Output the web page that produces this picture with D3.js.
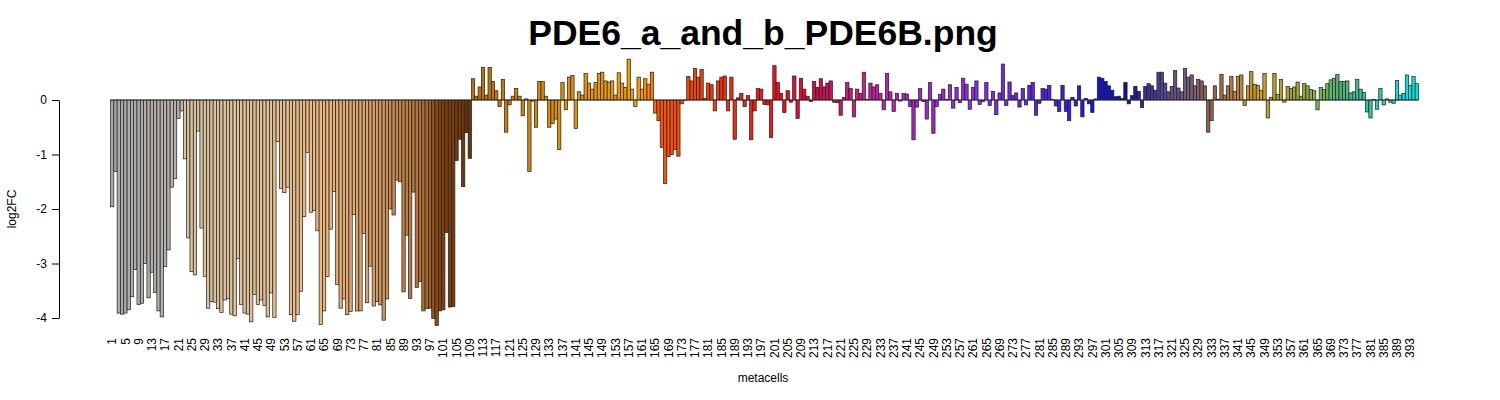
<!DOCTYPE html>
<html>
<head>
<meta charset="utf-8">
<script src="https://cdn.jsdelivr.net/npm/d3@7"></script>
<style>
  body { margin: 0; background: #fff; }
  svg { display: block; font-family: "Liberation Sans", Arial, sans-serif; }
</style>
</head>
<body>
<svg id="chart" width="1500" height="400"></svg>
<script>
const titleText = "PDE6_a_and_b_PDE6B.png";
const xLabel = "metacells";
const yLabel = "log2FC";
const yTicks = [0, -1, -2, -3, -4];

// log2FC per metacell
const log2fc_1_64 = [
  -1.96, -1.31, -3.91, -3.93, -3.91, -3.85, -3.61, -3.11, -3.75, -3.73, -3.00, -3.63, -3.16, -3.53, -3.87, -3.98,
  -3.06, -2.75, -1.60, -1.44, -0.34, -0.20, -1.08, -2.53, -3.15, -3.21, -0.57, -2.35, -3.24, -3.82, -3.70,
  -3.71, -3.83, -3.90, -3.67, -3.64, -3.93, -3.96, -2.91, -3.75, -3.91, -3.93, -4.07, -3.57, -3.75, -3.67, -3.77,
  -3.98, -3.54, -3.99, -0.76, -1.62, -1.70, -1.60, -3.94, -4.06, -3.94, -3.51, -2.14, -0.96, -2.06, -2.03, -2.40, -4.12
];
const log2fc_65_132 = [
  -3.87, -3.24, -2.37, -1.68, -3.39, -3.82, -3.65, -3.94, -3.88, -2.10, -3.87, -3.87, -2.45, -3.72, -3.05, -3.78,
  -3.70, -3.76, -4.04, -3.65, -2.00, -2.11, -1.47, -1.50, -3.52, -2.48, -3.64, -1.69, -3.44, -3.33, -3.87, -3.83,
  -3.82, -4.01,
  -4.14, -3.87, -3.85, -2.43, -3.80, -3.79, -1.11, -0.72, -1.59, -0.60, -1.07, 0.39, 0.07, 0.24, 0.60, 0.09,
  0.60, 0.34, 0.17, -0.12, 0.38, -0.59, -0.09, 0.07, 0.21, 0.07, -0.29, 0.02, -1.31, -0.02, -0.50, 0.34, 0.34, 0.07
];
const log2fc_133_198 = [
  -0.50, -0.43, -0.35, -0.91, 0.32, -0.18, 0.42, 0.45, -0.52, 0.15, 0.09, 0.49, 0.31, 0.20, 0.32, 0.49,
  0.51, 0.35, 0.33, 0.35, 0.09, 0.50, 0.31, 0.23, 0.75, 0.20, -0.12, 0.42, 0.20, 0.39, 0.29, 0.51, -0.24,
  -0.38, -0.87, -1.53, -1.04, -1.00, -0.91, -1.03, -0.07, -0.01, 0.43, 0.35, 0.58, 0.42, 0.56, 0.03, 0.31,
  0.28, -0.20, 0.35, 0.42, 0.44, -0.20, 0.42, -0.72, 0.04, 0.12, -0.12, 0.08, -0.73, -0.20, 0.21, 0.20, -0.08
];
const log2fc_199_264 = [
  -0.09, -0.69, 0.63, 0.32, 0.12, -0.23, 0.17, -0.04, 0.44, -0.34, 0.40, 0.20, 0.07, -0.03, 0.34, 0.23,
  0.39, 0.24, 0.31, 0.35, -0.04, -0.05, -0.28, 0.05, 0.32, 0.21, -0.31, 0.20, 0.12, 0.51, 0.01, 0.31, 0.24,
  0.28, 0.12, -0.18, 0.49, 0.15, -0.21, 0.12, -0.02, 0.12, 0.11, -0.12, -0.73, -0.13, 0.21, -0.03, -0.35,
  0.32, -0.61, -0.12, 0.10, 0.20, 0.01, 0.28, -0.15, 0.23, -0.05, 0.40, 0.29, -0.17, 0.23, 0.35, -0.08, -0.03
];
const log2fc_265_309 = [
  0.32, -0.10, 0.16, -0.27, 0.13, 0.66, -0.10, 0.33, 0.08, 0.13, -0.13, 0.21, -0.09, 0.27, 0.32, -0.28,
  -0.06, 0.21, 0.20, 0.27, 0.01, -0.11, -0.21, 0.27, -0.21, -0.38, 0.05, -0.11, 0.26, -0.31, 0.03, -0.07,
  -0.23, 0.02, 0.42, 0.40, 0.34, 0.26, 0.18, 0.06, 0.07, 0.03, 0.32, -0.07, 0.08
];
const log2fc_310_353 = [
  0.25, 0.16, -0.14, 0.25, 0.30, 0.26, 0.18, 0.51, 0.51, 0.31, 0.15, 0.25, 0.54, 0.22, 0.15, 0.58,
  0.42, 0.46, 0.26, 0.38, 0.35, 0.26, -0.59, -0.38, 0.26, 0.01, 0.47, 0.09, 0.26, 0.43, 0.16, 0.43,
  0.46, -0.10, 0.26, 0.52, 0.29, 0.27, 0.18, 0.49, -0.33, 0.05, 0.49, 0.10
];
const log2fc_354_395 = [
  0.38, -0.04, 0.25, 0.21, 0.24, 0.33, 0.07, 0.30, 0.26, 0.19, 0.17, -0.18, 0.23, 0.19, 0.30, 0.37,
  0.40, 0.47, 0.34, 0.34, 0.35, 0.13, 0.15, 0.38, 0.20, 0.14, -0.22, -0.33, 0.01, -0.17, 0.21, -0.09,
  0.02, -0.04, -0.06, 0.36, 0.09, 0.12, 0.46, 0.27, 0.43, 0.30
];

const log2fc = [].concat(log2fc_1_64, log2fc_65_132, log2fc_133_198, log2fc_199_264,
  log2fc_265_309, log2fc_310_353, log2fc_354_395);
const metacells = d3.range(1, log2fc.length + 1);
const tickLabels = metacells.filter((d) => (d - 1) % 4 === 0);

// metacell colour palette: stop index -> colour
const paletteAt = [1, 22, 23, 50, 64, 80, 95, 100, 109, 110, 130, 160, 164, 166, 175, 190, 205, 215, 228,
  240, 262, 285, 298, 308, 313, 320, 328, 334, 340, 348, 356, 364, 372, 380, 388, 395];
const paletteColours = ["#aaaaaa", "#b7b2ac", "#d8c2a2", "#e4c094", "#ecb880", "#d69c64", "#b06d35", "#84420f",
  "#6a3208", "#b86e08", "#d88a00", "#f5a000", "#ff7a00", "#ff5500", "#f24a00", "#ee2810", "#f00a20", "#c81050",
  "#cc2090", "#b020c0", "#8a2ee0", "#4a22e0", "#1414d8", "#1010a0", "#3a2c98", "#5e4c90", "#806070", "#9a6048",
  "#b8843c", "#d0a020", "#a8a030", "#88b050", "#50b478", "#38c4a8", "#20d8d0", "#00e4e8"];

const svg = d3.select("#chart");

const x = d3.scaleBand()
  .domain(metacells)
  .range([110.5, 1418.5])
  .padding(0);

const y = d3.scaleLinear()
  .domain([-4, 0])
  .range([318, 100]);

const colour = d3.scaleLinear()
  .domain(paletteAt)
  .range(paletteColours)
  .interpolate(d3.interpolateRgb);

svg.append("g")
  .selectAll("rect")
  .data(log2fc)
  .enter()
  .append("rect")
  .attr("x", (d, i) => x(metacells[i]))
  .attr("y", (d) => y(Math.max(0, d)))
  .attr("width", x.bandwidth())
  .attr("height", (d) => Math.abs(y(d) - y(0)))
  .attr("fill", (d, i) => colour(metacells[i]))
  .attr("stroke", "#1e1e1e")
  .attr("stroke-width", 0.7);

svg.append("line")
  .attr("x1", x.range()[0])
  .attr("x2", x.range()[1])
  .attr("y1", y(0))
  .attr("y2", y(0))
  .attr("stroke", "#333")
  .attr("stroke-width", 0.8);

const yAxis = svg.append("g")
  .attr("transform", "translate(59,0)")
  .call(d3.axisLeft(y)
    .tickValues(yTicks)
    .tickSize(7)
    .tickSizeOuter(0)
    .tickPadding(5)
    .tickFormat((d) => String(d)));

yAxis.selectAll("text")
  .style("font-size", "12px")
  .style("font-family", "'Liberation Sans', Arial, sans-serif")
  .attr("fill", "#000");
yAxis.selectAll("line, path").attr("stroke", "#000");

svg.append("g")
  .selectAll("text")
  .data(tickLabels)
  .enter()
  .append("text")
  .attr("transform", (d) => `translate(${x(d) + x.bandwidth() / 2}, 338) rotate(-90)`)
  .attr("text-anchor", "end")
  .attr("dy", "0.35em")
  .style("font-size", "12px")
  .text((d) => d);

svg.append("text")
  .attr("x", 763)
  .attr("y", 382)
  .attr("text-anchor", "middle")
  .style("font-size", "12px")
  .text(xLabel);

svg.append("text")
  .attr("transform", "translate(16, 209) rotate(-90)")
  .attr("text-anchor", "middle")
  .style("font-size", "12px")
  .text(yLabel);

svg.append("text")
  .attr("x", 763)
  .attr("y", 45)
  .attr("text-anchor", "middle")
  .style("font-size", "35.5px")
  .style("font-weight", "bold")
  .text(titleText);
</script>
</body>
</html>
